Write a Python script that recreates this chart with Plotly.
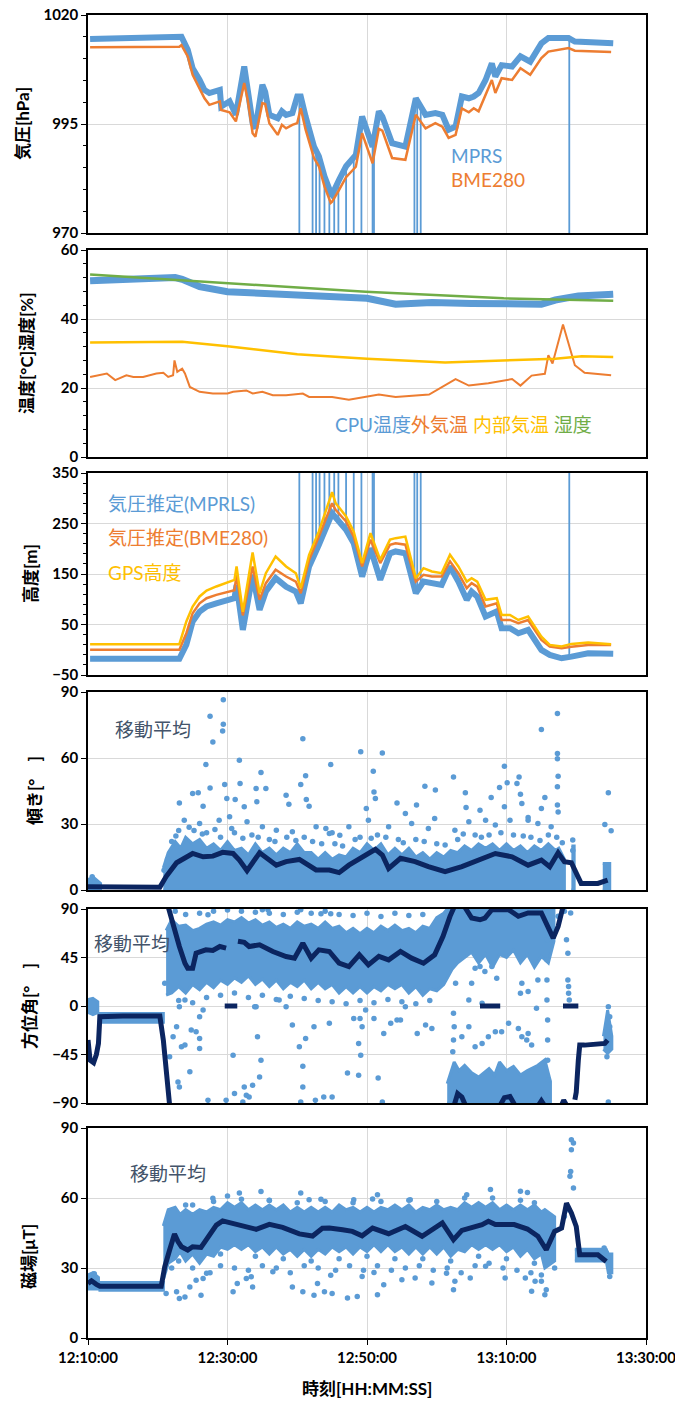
import pandas as pd
import plotly.graph_objects as go
from plotly.subplots import make_subplots

# ---------------- data: (minutes after 12:10:00, value) ----------------
# Panel 1: pressure [hPa]
mprs_p = [(0.3,1014.5),(13.1,1014.8),(13.4,1015.0),(14.3,1012.0),(15.0,1007.8),(16.0,1005.1),(16.7,1002.8),
          (17.4,1002.1),(18.9,1002.8),(19.1,999.0),(20.3,1000.2),(21.2,997.1),(22.4,1008.2),(22.9,1002.8),
          (23.6,995.2),(24.0,994.0),(25.0,1004.0),(25.4,1002.4),(26.0,997.1),(27.2,996.3),(27.8,997.9),
          (28.4,997.1),(29.3,997.5),(30.0,1001.3),(30.5,1001.3),(31.2,996.7),(32.4,989.8),(33.1,987.6),
          (33.9,983.0),(34.8,979.2),(35.0,978.8),(36.0,982.2),(37.0,985.3),(38.4,987.9),(39.3,996.7),
          (40.8,989.8),(41.7,997.9),(42.2,996.7),(43.6,990.6),(45.5,989.8),(47.0,1000.9),(48.4,997.1),
          (49.8,997.5),(50.8,997.1),(51.7,993.7),(52.7,994.4),(53.6,1001.3),(54.6,1000.9),(55.3,1001.3),
          (56.0,1002.1),(57.0,1005.1),(57.9,1008.9),(58.4,1005.9),(59.3,1008.5),(60.8,1008.2),(62.0,1010.5),
          (63.4,1009.3),(65.0,1013.5),(66.0,1014.7),(68.9,1014.7),(69.8,1013.9),(75.3,1013.5)]
bme_p = [(0.3,1012.6),(13.1,1012.7),(13.4,1013.1),(14.3,1010.5),(15.0,1006.3),(16.0,1003.2),(16.7,1000.9),
         (17.4,999.4),(18.9,1000.2),(19.1,998.2),(20.3,997.7),(21.2,995.6),(22.4,1004.4),(22.9,1000.5),
         (23.6,992.9),(24.0,992.1),(25.0,999.8),(25.4,999.6),(26.0,995.2),(27.2,992.5),(27.8,994.8),
         (28.4,994.0),(29.3,994.8),(30.0,995.2),(30.5,998.6),(31.2,993.7),(32.4,987.2),(33.1,985.3),
         (33.9,980.7),(34.8,976.9),(35.0,977.2),(36.0,979.9),(37.0,982.8),(38.4,985.2),(39.3,992.9),
         (40.8,986.0),(41.7,993.9),(42.2,993.5),(43.6,987.2),(45.5,986.8),(47.0,997.1),(48.4,994.0),
         (49.8,995.2),(50.8,994.4),(51.7,991.8),(52.7,992.5),(53.6,998.6),(54.6,997.7),(55.3,998.6),
         (56.0,997.9),(57.0,1001.7),(57.9,1005.1),(58.4,1002.1),(59.3,1005.5),(60.8,1005.1),(62.0,1007.8),
         (63.4,1006.3),(65.0,1010.1),(66.0,1011.6),(68.9,1012.4),(69.8,1011.8),(75.0,1011.5)]
# MPRS dropouts: (minute, value where the drop starts); they fall to the axis floor
p_spikes = [(30.3,1001),(32.2,990),(32.7,988),(33.2,987),(33.9,983),(34.6,980),(35.3,979),(35.9,982),
            (37.0,985),(38.1,987),(39.2,996),(40.8,990),(41.0,992),(46.8,999),(47.2,1000),(47.7,998),(69.0,1014.5)]
p_spike_floor = 970

# Panel 2: temperatures / humidity
cpu_temp = [(0.3,51.1),(5,51.3),(10,51.5),(12.5,52.0),(13.5,51.5),(16,49.4),(20,47.9),(25,47.4),(30,46.6),
            (36,46.0),(40,46.0),(44.1,44.3),(49.3,44.8),(55,44.5),(59.6,44.3),(65,44.3),(67,45.5),(70.3,46.7),(75.3,47.2)]
humidity = [(0.3,52.9),(20,50.3),(36,48.2),(39.8,47.9),(59.6,46.0),(75.3,45.3)]
inner_temp = [(0.3,33.2),(13.5,33.4),(20,32.1),(25,31.0),(30,29.8),(36,29.0),(40,28.5),(51.2,27.4),
              (59.6,28.0),(67,28.5),(70.8,29.2),(75.3,29.0)]
outer_temp = [(0.3,23.2),(2.7,24.2),(3.9,22.3),(5.5,23.7),(6.5,23.2),(7.9,23.2),(9.8,24.2),(10.8,24.4),(11.5,23.2),
              (12.2,23.7),(12.4,28.0),(12.8,24.7),(13.5,25.6),(13.9,24.2),(14.6,20.3),(16.0,18.9),(17.9,18.4),
              (20.0,18.4),(20.8,18.9),(22.7,19.3),(23.6,18.4),(25.0,18.9),(26.5,17.9),(28.4,17.9),(30.8,18.4),
              (31.7,17.4),(35.0,17.4),(37.4,16.6),(41.7,18.1),(44.1,17.4),(48.9,18.1),(50.3,19.7),(52.7,22.6),
              (54.6,20.7),(57.4,21.4),(60.8,22.6),(62.0,20.7),(63.6,23.6),(65.5,24.1),(66.0,29.5),(66.6,27.1),
              (68.1,38.4),(69.8,26.6),(71.2,24.4),(75.0,23.7)]

# Panel 3: altitude [m]
mprls_alt = [(0.3,-18),(13.1,-18),(14.1,10),(15.0,56),(16.0,75.7),(17.0,85.6),(18.4,92),(20.3,98.8),(21.0,102),
             (21.3,128.5),(22.2,39.3),(23.6,148.4),(24.6,79),(25.5,115.3),(26.9,141.8),(28.4,125),(29.8,115),
             (30.5,92),(31.7,165),(33.1,207.9),(34.3,250.8),(35.0,270),(35.5,262),(37.0,237.6),(38.1,211),
             (39.3,145),(40.5,201),(41.9,138.5),(43.3,191),(44.1,194.7),(45.5,191),(47.0,112),(48.1,135),
             (49.3,131.8),(50.7,128.5),(51.9,165),(53.1,135),(54.3,98.8),(55.0,115),(55.8,105.4),(57.0,65.7),
             (58.6,75.7),(59.3,42.6),(60.5,42.6),(61.7,32.7),(63.1,39.3),(65.0,-0.4),(66.2,-10.3),(67.9,-16.9),
             (69.3,-13.6),(71.7,-7),(75.3,-8)]
bme_alt = [(0.3,0),(13.1,0),(14.1,32.7),(15.0,72.4),(16.0,92),(17.0,102),(18.4,108.7),(20.3,115.3),(21.0,118),
           (21.3,148.4),(22.2,68),(23.6,164.9),(24.6,98.8),(25.5,131.9),(26.9,158.3),(28.4,145),(29.8,135),
           (30.5,112),(31.7,178),(33.1,224.4),(34.3,267.4),(35.0,290),(35.5,277),(37.0,254),(38.1,224),
           (39.3,165),(40.5,218),(41.9,171.5),(43.3,208),(44.1,211),(45.5,208),(47.0,135),(48.1,148.4),
           (49.3,145),(50.7,145),(51.9,175),(53.1,151.6),(54.3,122),(55.0,131.8),(55.8,125),(57.0,85.6),
           (58.6,92),(59.3,59),(60.5,59),(61.7,52.5),(63.1,59),(65.0,19.4),(66.2,6.2),(67.9,3),(69.3,6),
           (71.7,9.6),(75.0,9.6)]
gps_alt = [(0.3,11),(13.1,11),(14.1,56),(15.0,85.6),(16.0,105.5),(17.0,117.3),(18.4,125.3),(20.3,135.2),
           (21.0,138.5),(21.3,165),(22.2,75),(23.6,192.7),(24.6,112),(25.5,151.6),(26.9,184.7),(28.4,165),
           (29.8,151.6),(30.5,122),(31.7,188),(33.1,234.3),(34.3,284),(35.0,312),(35.5,290.5),(37.0,264),
           (38.1,234),(39.3,171.5),(40.5,231),(41.9,178),(43.3,218),(44.1,221),(45.5,224),(47.0,141.8),
           (48.1,161.6),(49.3,155),(50.7,151.7),(51.9,188),(53.1,165),(54.3,135),(55.0,141.8),(55.8,135),
           (57.0,98.8),(58.6,102),(59.3,69),(60.5,69),(61.7,59),(63.1,65.7),(65.0,26),(66.2,9.6),(67.9,6.3),
           (69.3,11.6),(71.7,14.2),(75.0,11)]
alt_spikes = [(30.3,92),(32.2,195),(32.7,205),(33.2,210),(33.9,235),(34.6,260),(35.3,268),(35.9,250),
              (37.0,237),(38.1,211),(39.2,148),(40.8,195),(41.0,190),(46.8,118),(47.2,115),(47.7,128),(69.0,-12)]
alt_spike_ceiling = 350

# Panel 4: tilt [deg]
tilt_ma = [(0.0,1.5),(10.3,1.2),(11.2,6.1),(12.7,12.4),(15.0,16.6),(16.5,15.1),(17.9,15.4),(19.3,17.1),(20.8,16.6),
           (21.7,13.6),(22.8,8.8),(24.6,16.9),(27.0,11.3),(28.4,12.9),(30.3,13.9),(32.7,9.1),(34.6,9.1),(36.0,7.9),
           (37.4,11.3),(39.3,15.1),(41.2,18.5),(42.2,15.9),(43.1,9.8),(44.8,14.4),(46.9,12.9),(48.8,10.6),
           (51.2,8.3),(53.6,10.6),(56.0,13.6),(58.4,16.6),(60.8,15.1),(63.1,11.3),(65.0,13.6),(66.2,10.6),
           (67.4,16.9),(68.3,12.9),(69.3,12.4),(70.7,3.0),(73.1,3.0),(74.5,4.5)]
# dense part of the tilt point cloud: (minute, low, high)
tilt_cloud = [
    [(0.0,0,3.5),(0.7,0,6),(1.8,0,3)],
    [(10.8,0,10),(11.5,0,17),(12.5,0,22),(13.3,0,19),(14,0,24),(15,0,21),(16,0,23),(17,0,19),(18,0,21),(19,0,18),
     (20,0,22),(21,0,18),(22,0,19),(23,0,16),(24,0,21),(25,0,17),(26,0,19),(27,0,16),(28,0,19),(29,0,17),
     (30,0,21),(31,0,17),(32,0,17),(33,0,14),(34,0,17),(35,0,14),(36,0,16),(37,0,15),(38,0,19),(39,0,17),
     (40,0,21),(41,0,18),(42,0,21),(43,0,16),(44,0,19),(45,0,16),(46,0,19),(47,0,15),(48,0,17),(49,0,14),
     (50,0,17),(51,0,15),(52,0,18),(53,0,17),(54,0,20),(55,0,18),(56,0,21),(57,0,19),(58,0,21),(59,0,18),
     (60,0,21),(61,0,18),(62,0,20),(63,0,17),(64,0,20),(65,0,18),(66,0,21),(67,0,18),(67.5,0,19),(68.3,0,14)],
    [(69.3,0,20),(69.7,0,20)],
    [(73.8,0,12),(74.8,0,12)],
]
tilt_points = [(13.1,39.6),(15.0,43.9),(15.8,44.2),(16.9,57.0),(17.5,46.4),(17.5,79.0),(17.9,67.3),(16.5,38.1),
               (19.3,72.3),(19.4,75.3),(19.4,86.5),(19.6,48.0),(19.9,41.6),(21.1,41.1),(21.7,59.0),(21.8,48.4),
               (22.4,37.8),(24.1,46.1),(24.8,53.4),(25.5,46.1),(24.2,40.1),(28.4,43.1),(28.8,39.0),(30.5,48.0),
               (30.8,68.8),(31.2,51.9),(31.3,41.1),(31.7,38.1),(34.8,57.0),(35.0,26.0),(39.1,62.8),(42.2,62.3),
               (40.9,54.0),(41.0,44.6),(41.2,41.6),(39.9,37.0),(44.3,39.6),(45.5,34.8),(47.1,38.6),(48.3,47.2),
               (49.8,45.4),(49.7,32.5),(52.4,51.4),(54.1,44.2),(54.2,37.5),(56.2,36.3),(57.8,42.0),(59.0,46.6),
               (59.7,56.3),(59.7,37.8),(60.1,48.7),(61.5,48.4),(61.8,51.4),(62.0,43.5),(62.2,39.3),(63.1,33.0),
               (65.0,72.9),(65.5,42.0),(65.0,37.0),(67.3,80.2),(67.3,62.0),(67.3,59.7),(67.4,51.7),(67.3,46.9),
               (67.3,38.6),(67.4,35.5),(74.6,44.2),(74.1,29.8),(75.0,26.9),(34.6,25.7),(36.1,24.9),
               (13.8,31.7),(16.0,30.2),(18.8,31.7),(20.3,33.3),(22.8,31.0),(25.0,28.7),(27.0,27.2),(29.3,26.5),
               (32.7,28.7),(34.1,28.0),(37.4,28.7),(40.2,31.7),(43.1,28.7),(46.4,30.2),(48.8,28.0),(52.6,27.2),
               (54.6,31.0),(57.0,31.7),(58.4,29.5),(60.5,31.7),(63.1,31.7),(64.5,30.2),(66.4,28.7),
               (12.0,22),(13.0,27),(15.2,27),(17.0,26),(19.0,24),(21.0,26),(23.5,25),(26.0,23),(28.5,24),(31.0,24),
               (33.5,21),(36.5,20),(39.0,24),(41.5,25),(44.5,23),(47.0,23),(50.0,21),(53.0,23),(55.5,25),(57.5,25),
               (61.0,25),(63.5,24),(66.0,25),(69.5,22.7),(69.5,18),(0.6,6.0),(0.3,4.5),
               (12.6,24.5),(14.5,28.5),(16.4,25.5),(18.2,27.5),(20.6,28),(22.2,23.5),(24.4,24),(26.8,22),(29.8,22.5),
               (32.2,22),(35.4,21),(38.3,23),(40.6,23.5),(42.7,24),(45.2,21.5),(48.2,22),(51.2,20.5),(53.8,25.5),
               (56.4,24),(59.2,26),(62.4,24.5),(64.8,22.5),(67.2,24),(68.0,21.5),(11.4,14),(10.9,9)]

# Panel 5: azimuth [deg]; moving average as separate segments (wraps at +-90)
az_ma = [
    [(0.0,-31.6),(0.3,-50.3),(0.8,-52.7),(1.2,-45),(1.5,-34.7),(1.7,-10),(5,-9.3),(10.3,-9.3),(10.8,-31.6),
     (11.2,-62.7),(11.7,-92)],
    [(11.5,92),(12.2,73.9),(13.1,55.2),(13.9,39.7),(14.3,35),(15.0,35),(15.5,49),(16.9,52.1),(17.9,51.5),
     (18.9,55.2),(19.8,53.7)],
    [(19.6,0),(21.4,0)],
    [(21.5,60),(22.4,59),(23.1,55.2),(24.6,56.8),(26.5,50.6),(28.4,45.9),(29.6,44.4),(30.8,58.3),(32.0,44.4),
     (33.1,52.1),(34.6,50.6),(36.0,39.7),(37.4,36.6),(38.9,47.5),(40.2,38.2),(41.7,46),(43.1,42.8),(44.8,50.6),
     (46.4,44.4),(48.1,39.7),(49.7,47.5),(50.9,64.6),(51.9,83.2),(52.5,92)],
    [(52.5,-92),(52.7,-88),(53.0,-81.3),(53.6,-84.4),(54.1,-92)],
    [(54.0,92),(55.0,81.6),(56.2,80),(56.9,81.6),(57.9,89.4),(58.9,89.4),(60.3,89.4),(61.7,83.2),(63.1,86.3),
     (65.0,86.3),(66.0,73.9),(66.7,63),(67.4,73.9),(68.1,92)],
    [(56.2,0),(59.1,0)],
    [(59.1,-92),(59.7,-85),(60.5,-84),(61.2,-92)],
    [(64.6,-92),(65.0,-88),(65.4,-92)],
    [(67.9,-92),(68.2,-87.5),(68.6,-92)],
    [(68.1,0),(70.3,0)],
    [(69.8,-87),(70.0,-80),(70.3,-50),(70.5,-36.3),(71.2,-36.3),(74.1,-34.7),(74.5,-31.6)],
]
az_cloud = [
    [(0.0,-6,6),(0.7,-8,7),(1.4,-6,4)],
    [(1.4,-15,-7),(10.8,-15,-7)],
    [(11.2,10,70),(12,12,80),(13,18,74),(14,12,75),(15,20,70),(16,15,72),(17,22,76),(18,17,78),(19,24,75),
     (20,20,80),(21,26,78),(22,22,82),(23,28,77),(24,20,80),(25,25,75),(26,18,78),(27,24,73),(28,16,76),
     (29,22,72),(30,18,78),(31,24,74),(32,16,76),(33,22,72),(34,16,78),(35,20,72),(36,12,74),(37,18,68),
     (38,12,72),(39,18,67),(40,12,72),(41,18,68),(42,14,74),(43,20,70),(44,16,75),(45,20,70),(46,12,72),
     (47,18,68),(48,10,74),(49,16,72),(50,14,82),(51,20,86),(51.5,25,90),(52.2,34,90),(53,40,90),(54,45,90),
     (55,50,90),(56,40,90),(57,48,90),(58,36,90),(59,48,90),(60,45,90),(61,52,90),(62,40,90),(63,48,90),
     (64,36,90),(65,46,90),(66,40,90),(66.8,60,90)],
    [(51.5,-90,-72),(52.5,-90,-52),(53.2,-90,-60),(54,-90,-55),(55,-90,-62),(56,-90,-66),(57.5,-90,-58),
     (58.3,-90,-64),(59,-90,-52),(60,-90,-60),(61,-90,-56),(62,-90,-64),(63,-90,-60),(64.5,-90,-55),
     (65.5,-90,-50),(66.3,-90,-70)],
    [(73.9,-40,-28),(74.5,-44,-4),(75.1,-40,-28)],
]
az_points = [(11.0,21.1),(11.7,-47.2),(12.2,-28.5),(12.7,-19.2),(12.9,-70.4),(13.1,-75.1),(13.4,-37.8),(13.9,-36.3),
             (14.6,-61.1),(14.8,-22.3),(15.5,-23.9),(16.0,-30.1),(16.0,-39.4),(17.2,-87.5),(13.1,-0.6),(13.9,5.6),
             (16.0,-9.9),(16.5,-3.7),(17.2,84.7),(19.8,-87.5),(20.8,-45.6),(21.0,-81.3),(22.2,-89.0),(22.4,-75.1),
             (22.7,-82.8),(23.1,-84.4),(23.6,-73.5),(24.3,-28.5),(24.8,-50.3),(24.6,-65.8),(25.0,89.4),(25.8,89.4),
             (23.9,-0.6),(24.1,-0.6),(27.4,5.6),(29.3,-17.7),(30.3,-37.8),(30.8,-75.1),(30.8,-55.8),(30.5,-89.0),
             (31.2,-30.1),(32.4,-19.2),(32.6,-87.5),(33.8,-84.4),(35.0,-84.4),(34.6,-16.1),(30.5,89.4),(33.4,85.7),
             (34.8,85.7),(28.4,-0.6),(38.1,-11.5),(39.0,-11.5),(39.3,-19.2),(38.8,-34.7),(39.1,-45.6),(37.2,-62.1),
             (38.8,-64.2),(41.6,-66.7),(41.0,-11.5),(42.4,-25.4),(43.4,-16.1),(44.3,-13.0),(44.8,-13.0),(47.2,-25.4),
             (48.4,-17.7),(49.3,-20.8),(42.2,-89.0),(39.8,-3.7),(45.5,-0.6),(52.4,-6.8),(52.5,-19.2),(52.4,-31.6),
             (52.3,-42.5),(53.6,-28.5),(54.6,-19.2),(55.5,-37.8),(56.5,-34.7),(57.4,-28.5),(58.4,-23.9),(59.3,-23.9),
             (60.3,-16.1),(61.7,-20.8),(62.2,-28.5),(62.9,-31.6),(63.1,-25.4),(63.6,-36.3),(62.0,11.8),(63.1,13.4),
             (62.2,21.1),(64.5,24.2),(64.3,-2.2),(55.0,21.1),(55.5,35.1),(56.2,36.6),(56.9,32.0),(57.9,36.6),
             (58.6,25.8),(56.5,2.5),(54.6,5.6),(52.7,21.1),(65.8,80),(65.8,61.5),(65.8,42.8),(65.8,24.2),(65.8,5.6),
             (65.9,-13.0),(65.9,-31.6),(65.9,-50.3),(66.0,-68.9),(66.0,-87.5),(68.6,61.5),(68.8,49),(68.8,24.2),
             (68.9,18),(68.9,11.8),(69.0,5.6),(69.2,86.3),(67.4,83.2),(68.3,87.8),(74.6,-0.6),(74.8,-9.9),
             (74.8,-19.2),(74.6,-31.6),(74.4,-47.2),(74.6,-89.0),
             (12.5,88),(14,85),(16,86),(18,88),(20,89),(22,88),(24,87),(26,86),(28,85),(30,87),(32,86),(34,88),
             (36,85),(38,84),(40,86),(42,83),(44,86),(46,84),(48,85),(13,5),(15,3),(17,8),(19,10),(21,12),(23,8),
             (25,10),(27,6),(29,9),(31,7),(33,5),(35,4),(37,2),(39,5),(41,3),(43,6),(45,4),(47,2),(49,5)]

# Panel 6: magnetic field [uT]
mag_ma = [(0.0,23.4),(0.5,24.5),(1.2,23.0),(1.7,22.2),(10.5,22.2),(11.0,30.5),(11.7,37.7),(12.4,44.6),(12.9,41.3),
          (13.4,39.1),(14.3,37.7),(15.0,39.1),(16.2,38.8),(17.4,44.1),(18.4,48.4),(19.3,50.2),(20.8,49.2),(22.7,48.0),
          (24.1,46.6),(26.0,48.7),(27.9,47.4),(30.3,44.6),(32.2,43.7),(33.6,47.0),(34.6,47.1),(36.5,46.4),(37.9,45.7),
          (39.3,43.8),(40.8,47.1),(43.1,44.7),(45.5,47.8),(47.9,43.6),(50.8,49.3),(52.4,42.1),(53.6,46.1),(56.5,48.6),
          (57.4,50.0),(58.4,48.6),(61.1,48.6),(63.0,46.7),(64.5,43.6),(65.7,37.8),(66.9,45.7),(67.9,47.1),(68.6,57.8),
          (69.3,53.6),(70.0,47.8),(70.5,35.7),(73.1,35.7),(74.3,32.8)]
mag_cloud = [
    [(0.0,21,27),(0.7,21,28),(1.5,21,26)],
    [(1.5,20.5,23.8),(10.8,20.5,23.8)],
    [(10.8,25,48),(11.5,32,55),(12.5,34,56),(13.2,37,53),(14,33,55),(15,36,53),(16,32,55),(17,36,54),(18,35,56),
     (19,39,55),(20,38,58),(21,40,56),(22,38,58),(23,40,55),(24,37,57),(25,39,55),(26,36,57),(27,39,55),
     (28,36,57),(29,38,54),(30,35,56),(31,38,54),(32,35,56),(33,38,54),(34,36,56),(35,39,54),(36,37,57),
     (37,39,55),(38,36,56),(39,39,54),(40,37,56),(41,40,54),(42,37,56),(43,40,55),(44,37,57),(45,39,55),
     (46,36,57),(47,39,54),(48,36,56),(49,39,55),(50,36,57),(51,39,55),(52,35,56),(53,38,55),(54,37,58),
     (55,40,56),(56,38,58),(57,40,56),(58,38,58),(59,40,55),(60,37,57),(61,39,55),(62,35,57),(63,38,55),
     (64,34,57),(65,36,54),(65.5,30,55),(66.9,33,52)],
    [(69.8,33,38),(74.3,33,38),(74.6,28,36),(75.1,28,36)],
]
mag_points = [(11.2,19.1),(12.7,19.8),(13.1,16.9),(13.9,17.6),(15.0,57.0),(16.2,18.3),(14.6,21.9),(16.5,25.5),
              (15.5,24.8),(17.0,27.7),(17.9,59.9),(20.0,60.9),(20.8,19.8),(21.7,62.1),(21.4,23.4),(22.7,25.5),
              (23.4,26.2),(23.6,21.9),(24.8,62.8),(26.0,58.9),(26.5,28.4),(29.3,21.9),(30.5,62.1),(30.8,19.8),
              (31.7,59.2),(32.4,18.3),(32.9,23.4),(33.9,19.8),(34.8,26.9),(35.0,19.1),(33.4,59.5),(37.2,17.1),
              (38.6,17.8),(41.5,18.5),(39.3,26.4),(41.0,28.1),(42.4,22.8),(45.0,25.0),(46.9,25.7),(49.3,23.6),
              (52.4,20.7),(52.6,24.3),(51.4,27.8),(54.8,25.7),(57.0,30.7),(59.8,25.7),(62.7,25.7),(63.6,20.0),
              (64.1,24.3),(65.5,18.5),(65.7,20.7),(65.0,24.3),(41.5,61.4),(40.8,59.6),(38.1,59.3),(57.7,63.6),
              (62.0,62.9),(63.0,62.4),(54.3,61.4),(46.2,59.3),(66.9,30.0),(69.3,85.0),(69.6,83.6),(69.3,80.7),
              (69.2,71.4),(69.1,69.3),(69.6,64.3),(68.8,55.0),(68.3,52.1),(74.8,26.4),(74.8,29.3),(74.3,36.4),
              (74.0,38.6),(15.0,30),(17.5,28),(19,31),(21,30),(23,29),(25,31),(27,30),(29,28),(31,31),(33,30),
              (35.5,29),(37.5,31),(39.5,29),(41.5,31),(43.5,29),(45.5,30),(47.5,31),(49.5,29),(51.5,30),(53.5,28),
              (55.5,31),(57.5,32),(59.5,30),(61.5,29),(63.5,28),(65.0,27),(14,57),(18,58.5),(22,59.5),(26,59),
              (30,58),(34,58.5),(38,58),(42,58.5),(46,59),(50,58.5),(54,60),(58,60),(62,59),(64,58),
              (12,30),(13,33),(16,34),(19,36),(24,35),(28,34),(32,33),(36,34),(40,35),(44,34),(48,34),(52,33),
              (56,35),(60,34),(64,32),(0.4,26.5),(0.9,27.5)]

x_tick_labels = ["12:10:00", "12:30:00", "12:50:00", "13:10:00", "13:30:00"]

# ---------------- helpers ----------------
BASE = pd.Timestamp("2021-01-01 12:10:00")


def tm(m):
    return (BASE + pd.Timedelta(minutes=m)).to_pydatetime()


def xy(pairs):
    return [tm(p[0]) for p in pairs], [p[1] for p in pairs]


def segs_xy(segs):
    xs, ys = [], []
    for i, s in enumerate(segs):
        if i:
            xs.append(None); ys.append(None)
        x, y = xy(s)
        xs += x; ys += y
    return xs, ys


def band_xy(segs):
    xs, ys = [], []
    for i, s in enumerate(segs):
        if i:
            xs.append(None); ys.append(None)
        xs += [tm(m) for m, _, _ in s] + [tm(m) for m, _, _ in reversed(s)]
        ys += [hi for _, _, hi in s] + [lo for _, lo, _ in reversed(s)]
    return xs, ys


def spikes_xy(pairs, far):
    xs, ys = [], []
    for m, v in pairs:
        xs += [tm(m), tm(m), None]; ys += [v, far, None]
    return xs, ys


BLUE = "#5B9BD5"; ORANGE = "#ED7D31"; YELLOW = "#FFC000"; GREEN = "#70AD47"; NAVY = "#0B2560"
LEG_NAVY = "#44546A"

fig = make_subplots(rows=6, cols=1)


def line(pairs, color, width, row):
    x, y = xy(pairs)
    fig.add_trace(go.Scatter(x=x, y=y, mode="lines", line=dict(color=color, width=width)), row=row, col=1)


# Panel 1
line(mprs_p, BLUE, 6, 1)
sx, sy = spikes_xy(p_spikes, p_spike_floor)
fig.add_trace(go.Scatter(x=sx, y=sy, mode="lines", line=dict(color=BLUE, width=1.8)), row=1, col=1)
line(bme_p, ORANGE, 2.5, 1)

# Panel 2
line(cpu_temp, BLUE, 7, 2)
line(outer_temp, ORANGE, 2, 2)
line(inner_temp, YELLOW, 2.5, 2)
line(humidity, GREEN, 2.5, 2)

# Panel 3
line(mprls_alt, BLUE, 6, 3)
sx, sy = spikes_xy(alt_spikes, alt_spike_ceiling)
fig.add_trace(go.Scatter(x=sx, y=sy, mode="lines", line=dict(color=BLUE, width=1.8)), row=3, col=1)
line(bme_alt, ORANGE, 2.5, 3)
line(gps_alt, YELLOW, 2.5, 3)


def cloud(segs, points, ma_x, ma_y, row):
    bx, by = band_xy(segs)
    fig.add_trace(go.Scatter(x=bx, y=by, mode="lines", fill="toself", fillcolor=BLUE,
                             line=dict(color=BLUE, width=3)), row=row, col=1)
    px_, py_ = xy(points)
    fig.add_trace(go.Scatter(x=px_, y=py_, mode="markers", marker=dict(color=BLUE, size=5.5)), row=row, col=1)
    fig.add_trace(go.Scatter(x=ma_x, y=ma_y, mode="lines", line=dict(color=NAVY, width=5)), row=row, col=1)


tx, ty = xy(tilt_ma)
cloud(tilt_cloud, tilt_points, tx, ty, 4)
ax_, ay_ = segs_xy(az_ma)
cloud(az_cloud, az_points, ax_, ay_, 5)
mx, my = xy(mag_ma)
cloud(mag_cloud, mag_points, mx, my, 6)

# ---------------- layout ----------------
W, H = 675, 1401
L, R = 88, 646
panels_px = [(15, 233), (250, 457), (473, 675), (692, 890), (909, 1103), (1128, 1338)]
ycfg = [((970, 1020), 25, 970, 5), ((0, 60), 20, 0, 4), ((-50, 350), 100, -50, 20),
        ((0, 90), 30, 0, None), ((-90, 90), 45, -90, None), ((0, 90), 30, 0, None)]

TICKFONT = dict(family="Lato, 'Noto Sans CJK JP'", size=15, color="black", weight="bold")
tickvals = [tm(m) for m in (0, 20, 40, 60, 80)]

for i in range(6):
    top, bot = panels_px[i]
    rng, dt, t0, mn = ycfg[i]
    yk = "yaxis" if i == 0 else f"yaxis{i+1}"
    xk = "xaxis" if i == 0 else f"xaxis{i+1}"
    ya = dict(domain=[1 - bot / H, 1 - top / H], range=list(rng), dtick=dt, tick0=t0, automargin=False,
              showgrid=True, gridcolor="#D9D9D9", gridwidth=1, zeroline=False,
              showline=True, linecolor="black", linewidth=1.5, mirror=True,
              ticks="outside", ticklen=5, tickcolor="black", tickfont=TICKFONT)
    if mn:
        ya["minor"] = dict(dtick=mn, tick0=t0, ticks="outside", ticklen=3, tickcolor="black", showgrid=False)
    xa = dict(range=[tm(0), tm(80)], tickvals=tickvals, ticktext=x_tick_labels, automargin=False,
              showgrid=True, gridcolor="#D9D9D9", gridwidth=1, zeroline=False,
              showline=True, linecolor="black", linewidth=1.5, mirror=True)
    if i == 5:
        xa.update(ticks="outside", ticklen=5, tickcolor="black", showticklabels=True, tickfont=TICKFONT,
                  ticklabeloverflow="allow")
    else:
        xa.update(ticks="", showticklabels=False)
    fig.update_layout(**{yk: ya, xk: xa})


def px_x(p):
    return (p - L) / (R - L)


def px_y(p):
    return 1 - p / H


ann = []
TITLE_FONT = dict(family="Lato, 'Noto Sans CJK JP'", size=17, color="black", weight="bold")
for text, cx, cy in [("気圧[hPa]", 22, 124), ("温度[°C]湿度[%]", 27, 353), ("高度[m]", 30, 574),
                     ("傾き[°　]", 34, 791), ("方位角[°　]", 29, 1006), ("磁場[μT]", 28, 1257)]:
    ann.append(dict(text=text, x=px_x(cx), y=px_y(cy), xref="paper", yref="paper", showarrow=False,
                    textangle=-90, xanchor="center", yanchor="middle", font=TITLE_FONT))
ann.append(dict(text="時刻[HH:MM:SS]", x=px_x(367), y=px_y(1388), xref="paper", yref="paper", showarrow=False,
                xanchor="center", yanchor="middle", font=TITLE_FONT))

LEG_FONT = dict(family="Lato, 'Noto Sans CJK JP'", size=19)
legs = [
    ("MPRS", BLUE, 449, 156), ("BME280", ORANGE, 449, 180),
    (f"<span style='color:{BLUE}'>CPU温度</span><span style='color:{ORANGE}'>外気温</span> "
     f"<span style='color:{YELLOW}'>内部気温</span> <span style='color:{GREEN}'>湿度</span>", BLUE, 333, 424),
    ("気圧推定(MPRLS)", BLUE, 106, 503), ("気圧推定(BME280)", ORANGE, 106, 538), ("GPS高度", YELLOW, 106, 572),
    ("移動平均", LEG_NAVY, 113, 729), ("移動平均", LEG_NAVY, 92, 943), ("移動平均", LEG_NAVY, 128, 1173),
]
for text, col, lx, ly in legs:
    ann.append(dict(text=text, x=px_x(lx), y=px_y(ly), xref="paper", yref="paper", showarrow=False,
                    xanchor="left", yanchor="middle", font=dict(LEG_FONT, color=col)))

fig.update_layout(width=W, height=H, margin=dict(l=L, r=W - R, t=0, b=0, autoexpand=False), showlegend=False,
                  paper_bgcolor="white", plot_bgcolor="white", annotations=ann, hovermode=False)

fig.write_html("out.html", config={"displayModeBar": False},
               post_script="document.body.style.margin='0';document.body.style.padding='0';")
